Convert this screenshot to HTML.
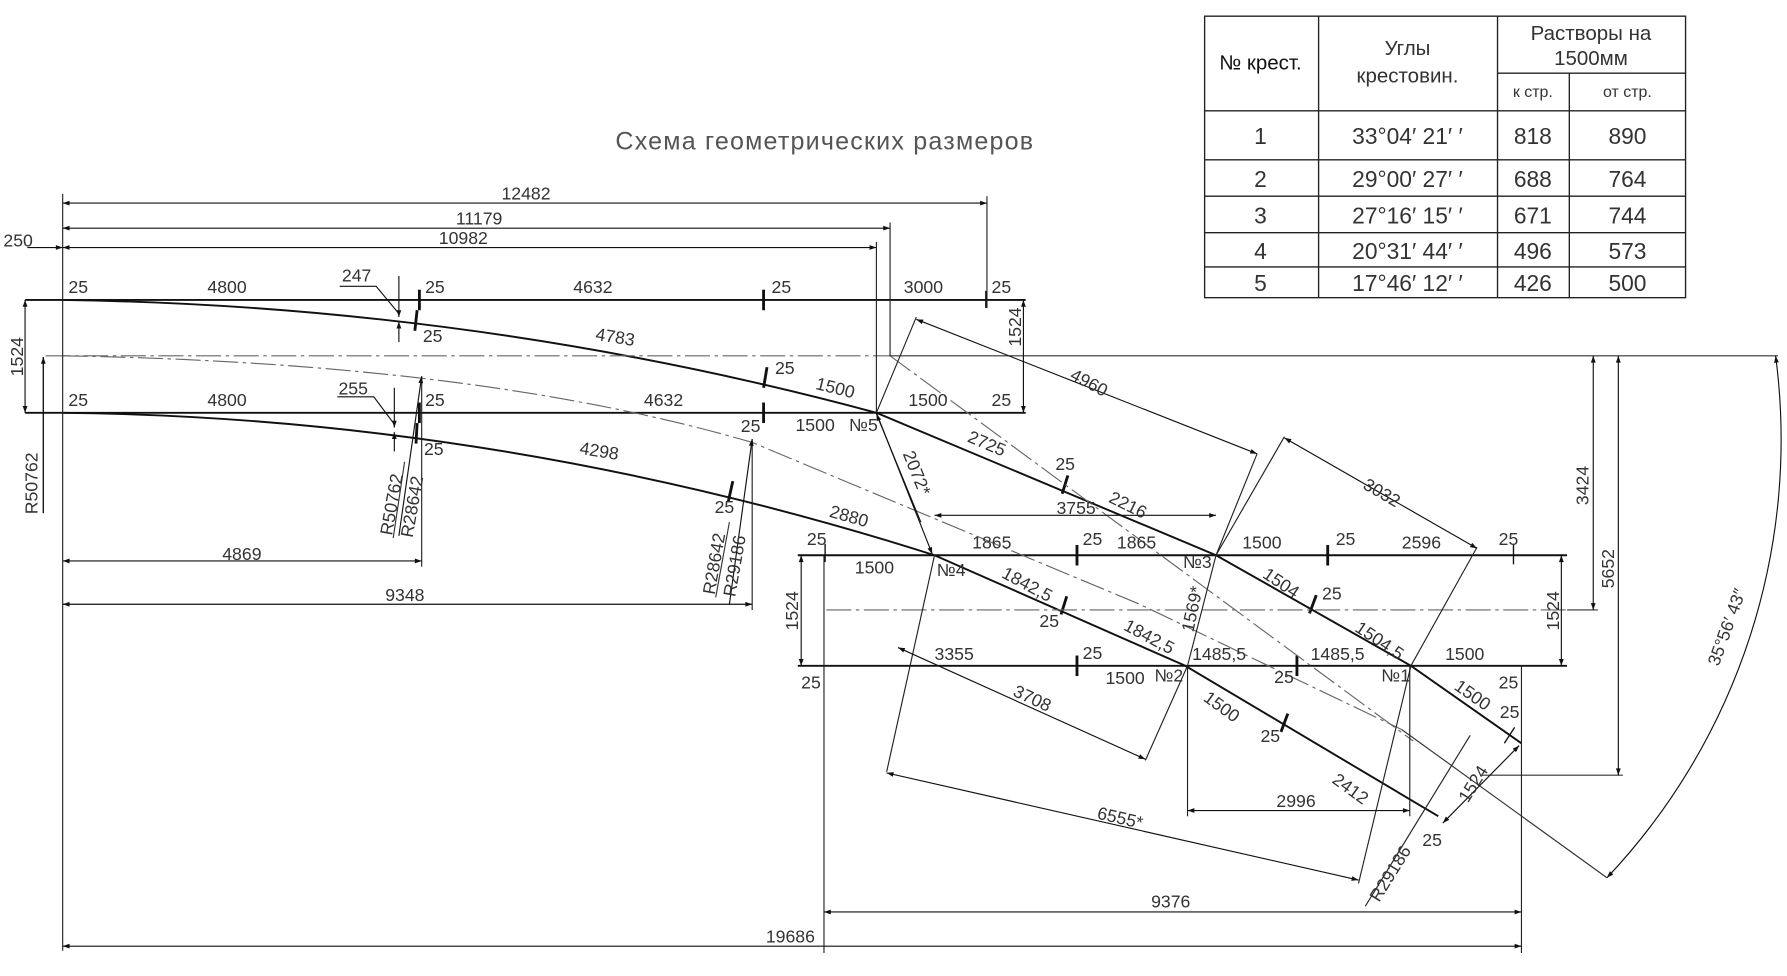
<!DOCTYPE html>
<html><head><meta charset="utf-8">
<style>
html,body{margin:0;padding:0;background:#fff;}
svg{display:block;}
text{font-family:"Liberation Sans Narrow","Liberation Sans","DejaVu Sans",sans-serif;fill:#333;font-size:14px;}
.t text{font-size:15.5px;}
</style></head><body>
<svg width="1787" height="976" viewBox="0 0 1568 856" xmlns="http://www.w3.org/2000/svg">
<defs>
<marker id="a" viewBox="0 0 10 10" refX="10" refY="5" markerWidth="9" markerHeight="6" orient="auto-start-reverse" markerUnits="userSpaceOnUse"><path d="M0,1.5 L10,5 L0,8.5z" fill="#111"/></marker>
</defs>
<rect width="1568" height="856" fill="#fff"/>

<text x="540" y="131" style="font-size:22px;letter-spacing:1.5px;fill:#555" textLength="368">Схема геометрических размеров</text>

<g stroke="#222" stroke-width="1.2" fill="none">
<rect x="1057" y="14" width="422" height="247"/>
<line x1="1157" y1="14" x2="1157" y2="261"/>
<line x1="1314" y1="14" x2="1314" y2="261"/>
<line x1="1377" y1="64" x2="1377" y2="261"/>
<line x1="1314" y1="64" x2="1479" y2="64"/>
<line x1="1057" y1="97" x2="1479" y2="97"/>
<line x1="1057" y1="140" x2="1479" y2="140"/>
<line x1="1057" y1="172" x2="1479" y2="172"/>
<line x1="1057" y1="204" x2="1479" y2="204"/>
<line x1="1057" y1="234" x2="1479" y2="234"/>
</g>
<g text-anchor="middle" style="font-size:20px">
<text x="1106" y="61" style="font-family:'Liberation Sans',sans-serif;font-size:18px;fill:#111">№ крест.</text>
<text x="1235" y="48" style="font-size:18px">Углы</text>
<text x="1235" y="72" style="font-size:18px">крестовин.</text>
<text x="1396" y="35" style="font-size:18px">Растворы на</text>
<text x="1396" y="57" style="font-size:18px">1500мм</text>
<text x="1345" y="85" style="font-size:14px">к стр.</text>
<text x="1428" y="85" style="font-size:14px">от стр.</text>
<g style="font-size:20px">
<text x="1106" y="126" style="font-size:20px">1</text><text x="1235" y="126" style="font-size:20px">33°04′ 21′ ′</text><text x="1345" y="126" style="font-size:20px">818</text><text x="1428" y="126" style="font-size:20px">890</text>
<text x="1106" y="164" style="font-size:20px">2</text><text x="1235" y="164" style="font-size:20px">29°00′ 27′ ′</text><text x="1345" y="164" style="font-size:20px">688</text><text x="1428" y="164" style="font-size:20px">764</text>
<text x="1106" y="196" style="font-size:20px">3</text><text x="1235" y="196" style="font-size:20px">27°16′ 15′ ′</text><text x="1345" y="196" style="font-size:20px">671</text><text x="1428" y="196" style="font-size:20px">744</text>
<text x="1106" y="227" style="font-size:20px">4</text><text x="1235" y="227" style="font-size:20px">20°31′ 44′ ′</text><text x="1345" y="227" style="font-size:20px">496</text><text x="1428" y="227" style="font-size:20px">573</text>
<text x="1106" y="255" style="font-size:20px">5</text><text x="1235" y="255" style="font-size:20px">17°46′ 12′ ′</text><text x="1345" y="255" style="font-size:20px">426</text><text x="1428" y="255" style="font-size:20px">500</text>
</g>
</g>

<g stroke="#111" stroke-width="1.7" fill="none">
<line x1="22" y1="263" x2="900" y2="263"/>
<line x1="22" y1="362" x2="900" y2="362"/>
<line x1="700" y1="487" x2="1375" y2="487"/>
<line x1="700" y1="584" x2="1375" y2="584"/>
<path d="M55,263 Q420,268 769,362 L1067,487 L1238,584 L1335,652"/>
<path d="M55,362 Q440,366 820,487 L1040,584 L1262,716"/>
</g>
<g stroke="#111" stroke-width="2.5">
<line x1="368" y1="254" x2="368" y2="272"/><line x1="670" y1="254" x2="670" y2="272"/>
<line x1="368" y1="353" x2="368" y2="371"/><line x1="670" y1="353" x2="670" y2="371"/>
<line x1="366" y1="272" x2="364" y2="290"/><line x1="366" y1="371" x2="365" y2="389"/>
<line x1="673" y1="322" x2="670" y2="340"/><line x1="643" y1="422" x2="639" y2="440"/>
<line x1="945" y1="478" x2="945" y2="496"/><line x1="1165" y1="478" x2="1165" y2="496"/>
<line x1="945" y1="575" x2="945" y2="593"/><line x1="1138" y1="575" x2="1138" y2="593"/>
<line x1="937" y1="417" x2="932" y2="433"/><line x1="936" y1="523" x2="931" y2="539"/>
<line x1="1155" y1="522" x2="1149" y2="538"/><line x1="1130" y1="626" x2="1124" y2="642"/>
</g>
<g stroke="#111" stroke-width="1.2">
<line x1="1329" y1="638" x2="1320" y2="652"/>
<line x1="1328" y1="477" x2="1328" y2="495"/><line x1="865" y1="255" x2="865" y2="270"/>
<line x1="724" y1="477" x2="724" y2="493"/>
</g>

<g stroke="#666" stroke-width="1" fill="none" stroke-dasharray="22,4,3,4">
<line x1="40" y1="312" x2="780" y2="312"/>
<path d="M55,312 Q420,318 660,388 L1000,530 L1230,640"/>
<line x1="725" y1="535" x2="1375" y2="535"/>
<line x1="781" y1="312" x2="1240" y2="650"/>
</g>
<g stroke="#333" stroke-width="1" fill="none">
<line x1="780" y1="312" x2="1560" y2="312"/>
<line x1="1230" y1="640" x2="1410" y2="770"/>
<line x1="1375" y1="535" x2="1402" y2="535"/>
<line x1="1300" y1="680" x2="1424" y2="680"/>
</g>

<g stroke="#222" stroke-width="1" fill="none">
<line x1="55" y1="170" x2="55" y2="834"/>
<line x1="866" y1="172" x2="866" y2="270"/>
<line x1="781" y1="195" x2="781" y2="312"/>
<line x1="769" y1="212" x2="769" y2="362"/>
<line x1="370" y1="330" x2="370" y2="497"/>
<line x1="660" y1="385" x2="660" y2="535"/>
<line x1="723" y1="487" x2="723" y2="836"/>
<line x1="1335" y1="584" x2="1335" y2="836"/>
<line x1="1042" y1="584" x2="1042" y2="716"/>
<line x1="1237" y1="584" x2="1237" y2="716"/>
<line x1="769" y1="362" x2="804" y2="278"/>
<line x1="1067" y1="487" x2="1103" y2="398"/>
<line x1="1067" y1="487" x2="1127" y2="383"/>
<line x1="1238" y1="584" x2="1296" y2="480"/>
<line x1="820" y1="487" x2="778" y2="677"/>
<line x1="1042" y1="584" x2="1005" y2="667"/>
<line x1="1238" y1="584" x2="1192" y2="775"/>
<line x1="1067" y1="487" x2="1042" y2="584"/>
<line x1="1198" y1="795" x2="1290" y2="645"/>
</g>

<g stroke="#111" stroke-width="1" fill="none" marker-start="url(#a)" marker-end="url(#a)">
<line x1="55" y1="178" x2="866" y2="178"/>
<line x1="55" y1="200" x2="781" y2="200"/>
<line x1="55" y1="217" x2="769" y2="217"/>
<line x1="22" y1="263" x2="22" y2="362"/>
<line x1="898" y1="263" x2="898" y2="362"/>
<line x1="55" y1="492" x2="370" y2="492"/>
<line x1="55" y1="530" x2="660" y2="530"/>
<line x1="820" y1="452" x2="1067" y2="452"/>
<line x1="703" y1="487" x2="703" y2="584"/>
<line x1="1370" y1="487" x2="1370" y2="584"/>
<line x1="1398" y1="312" x2="1398" y2="535"/>
<line x1="1420" y1="312" x2="1420" y2="680"/>
<line x1="723" y1="800" x2="1335" y2="800"/>
<line x1="55" y1="830" x2="1335" y2="830"/>
<line x1="1042" y1="711" x2="1237" y2="711"/>
<line x1="804" y1="280" x2="1103" y2="398"/>
<line x1="1127" y1="384" x2="1296" y2="481"/>
<line x1="788" y1="568" x2="1005" y2="666"/>
<line x1="778" y1="678" x2="1192" y2="772"/>
<line x1="1266" y1="722" x2="1333" y2="654"/>
<path d="M1558,312 A560,560 0 0 1 1410,770"/>
</g>
<g stroke="#111" stroke-width="1" fill="none" marker-end="url(#a)">
<line x1="24" y1="217" x2="55" y2="217"/>
<line x1="350" y1="242" x2="350" y2="278"/>
<line x1="350" y1="300" x2="350" y2="282"/>
<line x1="346" y1="340" x2="346" y2="375"/>
<line x1="346" y1="396" x2="346" y2="379"/>
<line x1="350" y1="470" x2="370" y2="330"/>
<line x1="640" y1="530" x2="660" y2="385"/>
<line x1="808" y1="458" x2="769" y2="363"/>
<line x1="769" y1="362" x2="818" y2="486"/>
<line x1="38" y1="450" x2="38" y2="313"/>
</g>
<line x1="38" y1="313" x2="38" y2="450" stroke="#111"/>
<polyline points="298,251 330,251 350,275" stroke="#111" fill="none"/>
<polyline points="296,348 328,348 346,372" stroke="#111" fill="none"/>

<g class="t">
<text x="3" y="216">250</text>
<text x="440" y="175">12482</text>
<text x="400" y="197">11179</text>
<text x="385" y="214">10982</text>
<text x="60" y="257">25</text><text x="182" y="257">4800</text><text x="300" y="247">247</text>
<text x="373" y="257">25</text><text x="503" y="257">4632</text><text x="677" y="257">25</text>
<text x="793" y="257">3000</text><text x="870" y="257">25</text>
<text x="371" y="300">25</text>
<text x="522" y="298" transform="rotate(9 522 298)">4783</text>
<text x="680" y="328">25</text>
<text x="715" y="341" transform="rotate(14 715 341)">1500</text>
<text x="797" y="356">1500</text><text x="870" y="356">25</text>
<text x="60" y="356">25</text><text x="182" y="356">4800</text><text x="297" y="346">255</text>
<text x="373" y="356">25</text><text x="565" y="356">4632</text>
<text x="650" y="379">25</text><text x="698" y="378">1500</text><text x="745" y="378">№5</text>
<text x="372" y="399">25</text>
<text x="508" y="398" transform="rotate(9 508 398)">4298</text>
<text x="627" y="450">25</text>
<text x="727" y="453" transform="rotate(16 727 453)">2880</text>
<text x="344" y="470" transform="rotate(-80 344 470)">R50762</text>
<line x1="345" y1="472" x2="355" y2="405" stroke="#333"/>
<text x="362" y="472" transform="rotate(-80 362 472)">R28642</text>
<text x="627" y="522" transform="rotate(-80 627 522)">R28642</text>
<line x1="628" y1="524" x2="640" y2="458" stroke="#333"/>
<text x="645" y="524" transform="rotate(-80 645 524)">R29186</text>
<text x="848" y="387" transform="rotate(23 848 387)">2725</text>
<text x="926" y="412">25</text>
<text x="972" y="440" transform="rotate(26 972 440)">2216</text>
<text x="938" y="332" transform="rotate(28 938 332)">4960</text>
<text x="1195" y="428" transform="rotate(30 1195 428)">3032</text>
<text x="792" y="398" transform="rotate(68 792 398)">2072*</text>
<text x="927" y="451">3755</text>
<text x="853" y="481">1865</text><text x="950" y="478">25</text><text x="980" y="481">1865</text>
<text x="1090" y="481">1500</text><text x="1172" y="478">25</text><text x="1230" y="481">2596</text>
<text x="1315" y="478">25</text><text x="708" y="478">25</text>
<text x="750" y="503">1500</text><text x="822" y="505">№4</text><text x="1038" y="498">№3</text>
<text x="878" y="506" transform="rotate(28 878 506)">1842,5</text>
<text x="912" y="550">25</text>
<text x="985" y="552" transform="rotate(28 985 552)">1842,5</text>
<text x="1107" y="506" transform="rotate(34 1107 506)">1504</text>
<text x="1160" y="526">25</text>
<text x="1188" y="553" transform="rotate(34 1188 553)">1504,5</text>
<text x="1047" y="555" transform="rotate(-78 1047 555)">1569*</text>
<text x="820" y="579">3355</text><text x="950" y="578">25</text>
<text x="1046" y="579">1485,5</text><text x="1150" y="579">1485,5</text><text x="1268" y="579">1500</text>
<text x="703" y="604">25</text><text x="970" y="600">1500</text><text x="1013" y="598">№2</text>
<text x="1118" y="599">25</text><text x="1212" y="598">№1</text>
<text x="1275" y="604" transform="rotate(35 1275 604)">1500</text>
<text x="1315" y="604">25</text><text x="1316" y="630">25</text>
<text x="888" y="610" transform="rotate(25 888 610)">3708</text>
<text x="1055" y="614" transform="rotate(36 1055 614)">1500</text>
<text x="1106" y="651">25</text>
<text x="1168" y="686" transform="rotate(36 1168 686)">2412</text>
<text x="1120" y="708">2996</text>
<text x="962" y="718" transform="rotate(13 962 718)">6555*</text>
<text x="1288" y="705" transform="rotate(-58 1288 705)">1524</text>
<text x="1248" y="742">25</text>
<text x="1210" y="792" transform="rotate(-58 1210 792)">R29186</text>
<text x="1010" y="796">9376</text>
<text x="672" y="827">19686</text>
<text x="20" y="330" transform="rotate(-90 20 330)">1524</text>
<text x="33" y="451" transform="rotate(-90 33 451)">R50762</text>
<text x="195" y="491">4869</text>
<text x="338" y="527">9348</text>
<text x="896" y="304" transform="rotate(-90 896 304)">1524</text>
<text x="700" y="553" transform="rotate(-90 700 553)">1524</text>
<text x="1368" y="553" transform="rotate(-90 1368 553)">1524</text>
<text x="1394" y="443" transform="rotate(-90 1394 443)">3424</text>
<text x="1416" y="516" transform="rotate(-90 1416 516)">5652</text>
<text x="1508" y="585" transform="rotate(-70 1508 585)">35°56′ 43″</text>
</g>
</svg>
</body></html>
